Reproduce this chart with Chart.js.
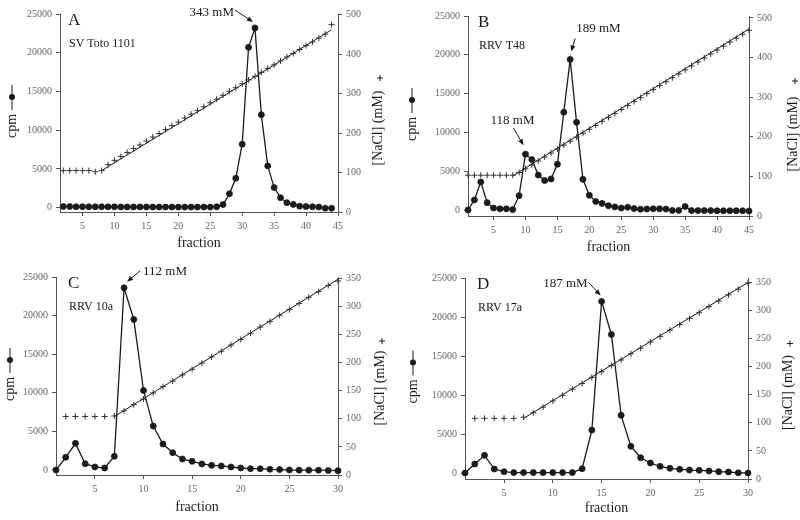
<!DOCTYPE html>
<html>
<head>
<meta charset="utf-8">
<title>Fraktionen NaCl-Gradient</title>
<script src="https://cdn.jsdelivr.net/npm/chart.js@4.4.1/dist/chart.umd.min.js"></script>
<style>
  body { margin: 0; background: #fff; }
  #wrap { position: relative; width: 800px; height: 520px; }
  #wrap canvas { position: absolute; left: 0; top: 0; }
</style>
</head>
<body>
<div id="wrap">
  <canvas id="panelA" width="800" height="520"></canvas>
  <canvas id="panelB" width="800" height="520"></canvas>
  <canvas id="panelC" width="800" height="520"></canvas>
  <canvas id="panelD" width="800" height="520"></canvas>
</div>
<script>
// Tick-Beschriftungen
const ticksX45 = [5, 10, 15, 20, 25, 30, 35, 40, 45];
const ticksX30 = [5, 10, 15, 20, 25, 30];
const ticksCpm = [0, 5000, 10000, 15000, 20000, 25000];
const ticksNacl500 = [0, 100, 200, 300, 400, 500];
const ticksNacl350 = [0, 50, 100, 150, 200, 250, 300, 350];

// A: SV Toto 1101
const fractionsA = [2, 3, 4, 5, 6, 7, 8, 9, 10, 11, 12, 13, 14, 15, 16, 17, 18, 19, 20, 21, 22, 23,
  24, 25, 26, 27, 28, 29, 30, 31, 32, 33, 34, 35, 36, 37, 38, 39, 40, 41, 42, 43, 44];
const cpmA = [150, 150, 130, 130, 120, 120, 120, 110, 110, 100, 100, 100, 100, 100, 90, 90, 90, 80,
  80, 80, 80, 80, 80, 80, 120, 400, 1800, 3800, 8200, 20700, 23200, 12000, 5400, 2600, 1300, 650,
  430, 200, 150, 120, 80, -60, -60];
const naclA = [105, 105, 105, 105, 105, 102, 105, 120, 131, 141, 151, 161, 170, 180, 190, 199, 209,
  219, 228, 238, 248, 257, 267, 277, 286, 296, 306, 315, 325, 335, 344, 354, 364, 373, 383, 393,
  402, 412, 422, 431, 441, 451, 475];
const fitA_x = [8, 44];
const fitA_y = [105, 462];

// B: RRV T48
const fractionsB = [1, 2, 3, 4, 5, 6, 7, 8, 9, 10, 11, 12, 13, 14, 15, 16, 17, 18, 19, 20, 21, 22,
  23, 24, 25, 26, 27, 28, 29, 30, 31, 32, 33, 34, 35, 36, 37, 38, 39, 40, 41, 42, 43, 44, 45];
const cpmB = [0, 1300, 3600, 950, 250, 150, 150, 50, 1850, 7200, 6500, 4500, 3800, 4000, 5900,
  12600, 19400, 11300, 3950, 1900, 1100, 850, 550, 400, 250, 350, 180, 100, 120, 150, 150, 120,
  -50, -50, 450, -80, -80, -80, -80, -100, -100, -100, -100, -100, -120];
const naclB = [103, 103, 103, 103, 103, 103, 103, 103, 110, 119, 129, 139, 149, 159, 169, 179, 189,
  199, 209, 219, 229, 239, 249, 259, 269, 279, 289, 299, 309, 319, 329, 339, 349, 359, 369, 379,
  389, 399, 409, 419, 429, 439, 449, 459, 469];
const fitB_x = [8, 45];
const fitB_y = [101, 472];

// C: RRV 10a
const fractionsC = [1, 2, 3, 4, 5, 6, 7, 8, 9, 10, 11, 12, 13, 14, 15, 16, 17, 18, 19, 20, 21, 22,
  23, 24, 25, 26, 27, 28, 29, 30];
const cpmC = [0, 1640, 3450, 820, 390, 260, 1770, 23600, 19500, 10300, 5690, 3360, 2240, 1420,
  1120, 780, 600, 520, 390, 260, 170, 170, 90, 50, 0, -20, -20, -20, -60, -90];
const naclFractionsC = [2, 3, 4, 5, 6, 7, 8, 9, 10, 11, 12, 13, 14, 15, 16, 17, 18, 19, 20, 21, 22,
  23, 24, 25, 26, 27, 28, 29, 30];
const naclC = [104, 104, 104, 104, 104, 105, 114, 125, 135, 146, 157, 167, 178, 188, 199, 210, 220,
  231, 241, 252, 263, 273, 284, 294, 305, 316, 326, 337, 345];
const fitC_x = [7, 30];
const fitC_y = [104, 348];

// D: RRV 17a
const fractionsD = [1, 2, 3, 4, 5, 6, 7, 8, 9, 10, 11, 12, 13, 14, 15, 16, 17, 18, 19, 20, 21, 22,
  23, 24, 25, 26, 27, 28, 29, 30];
const cpmD = [0, 1150, 2260, 510, 170, 50, 50, 50, 50, 50, 50, 50, 550, 5500, 22000, 17760, 7390,
  3420, 1960, 1280, 850, 600, 470, 380, 340, 260, 170, 130, 20, 0];
const naclFractionsD = [2, 3, 4, 5, 6, 7, 8, 9, 10, 11, 12, 13, 14, 15, 16, 17, 18, 19, 20, 21, 22,
  23, 24, 25, 26, 27, 28, 29, 30];
const naclD = [108, 108, 108, 108, 108, 110, 118, 128, 139, 149, 160, 170, 181, 191, 202, 212, 223,
  233, 244, 254, 265, 275, 286, 296, 307, 317, 328, 338, 349];
const fitD_x = [7, 30];
const fitD_y = [108, 350];

// Peak-Beschriftungen (Fraktion, cpm, Text)
const peaksA = [{ fraction: 32, cpm: 23200, text: '343 mM' }];
const peaksB = [{ fraction: 17, cpm: 19400, text: '189 mM' }, { fraction: 10, cpm: 7200, text: '118 mM' }];
const peaksC = [{ fraction: 8, cpm: 23600, text: '112 mM' }];
const peaksD = [{ fraction: 15, cpm: 22000, text: '187 mM' }];

const serif = '"Liberation Serif", "DejaVu Serif", serif';
const ink = '#1a1a1a';
const axisGrey = '#555';
const tickGrey = '#666';

Chart.defaults.font.family = serif;

const toPoints = (xs, ys) => xs.map((x, i) => ({ x: x, y: ys[i] }));

// Zeichnet Buchstabe, Stamm, Achsentitel und Pfeile
const panelDecor = {
  id: 'panelDecor',
  afterDraw(chart, args, o) {
    const { ctx, chartArea: a, scales } = chart;
    const mid = (a.top + a.bottom) / 2;
    ctx.save();
    ctx.fillStyle = ink;
    ctx.strokeStyle = ink;
    ctx.lineWidth = 1;

    ctx.textAlign = 'left';
    ctx.textBaseline = 'alphabetic';
    ctx.font = '17px ' + serif;
    ctx.fillText(o.letter, a.left + o.labelDx, a.top + 11);
    ctx.font = '12px ' + serif;
    ctx.fillText(o.strain, a.left + o.labelDx + 1, a.top + 33);

    // links: cpm mit Linie + Punkt
    const lx = a.left - o.leftDx;
    ctx.beginPath();
    ctx.moveTo(lx, mid - 28);
    ctx.lineTo(lx, mid - 3);
    ctx.stroke();
    ctx.beginPath();
    ctx.arc(lx, mid - 16, 3, 0, Math.PI * 2);
    ctx.fill();
    ctx.save();
    ctx.translate(lx, mid + 13);
    ctx.rotate(-Math.PI / 2);
    ctx.textAlign = 'center';
    ctx.textBaseline = 'middle';
    ctx.font = '14px ' + serif;
    ctx.fillText('cpm', 0, 0);
    ctx.restore();

    // rechts: [NaCl] (mM) mit Kreuz
    const rx = a.right + o.rightDx;
    ctx.save();
    ctx.translate(rx, mid + o.rightTextDy);
    ctx.rotate(-Math.PI / 2);
    ctx.textAlign = 'center';
    ctx.textBaseline = 'middle';
    ctx.font = '14px ' + serif;
    ctx.fillText('[NaCl] (mM)', 0, 0);
    ctx.restore();
    const px = rx + 2, py = mid - 35;
    ctx.beginPath();
    ctx.moveTo(px - 3, py); ctx.lineTo(px + 3, py);
    ctx.moveTo(px, py - 3); ctx.lineTo(px, py + 3);
    ctx.stroke();

    // Pfeile zu den Peaks
    ctx.font = '13px ' + serif;
    ctx.textBaseline = 'middle';
    o.peaks.forEach((pk, i) => {
      const st = o.arrows[i];
      const x0 = scales.x.getPixelForValue(pk.fraction);
      const y0 = scales.y.getPixelForValue(pk.cpm);
      const tx = x0 + st.tail[0], ty = y0 + st.tail[1];
      const hx = x0 + st.tip[0], hy = y0 + st.tip[1];
      const ang = Math.atan2(hy - ty, hx - tx);
      const c = Math.cos(ang), s = Math.sin(ang);
      ctx.beginPath();
      ctx.moveTo(tx, ty);
      ctx.lineTo(hx - 4 * c, hy - 4 * s);
      ctx.stroke();
      ctx.beginPath();
      ctx.moveTo(hx, hy);
      ctx.lineTo(hx - 6 * c - 2.5 * s, hy - 6 * s + 2.5 * c);
      ctx.lineTo(hx - 6 * c + 2.5 * s, hy - 6 * s - 2.5 * c);
      ctx.closePath();
      ctx.fill();
      ctx.textAlign = st.align;
      ctx.fillText(pk.text, x0 + st.text[0], y0 + st.text[1]);
    });
    ctx.restore();
  }
};

function axisStyle() {
  return {
    grid: { drawOnChartArea: false, drawTicks: true, tickLength: 4, color: axisGrey, lineWidth: 1 },
    border: { display: true, color: axisGrey, width: 1 },
    ticks: { color: tickGrey, font: { size: 10, family: serif }, autoSkip: false, maxRotation: 0, padding: 4,
      callback: v => String(v) }
  };
}

function drawPanel(p) {
  const b = p.box;
  const xBottom = b.titleY + 8.4;
  const x = axisStyle(), y = axisStyle(), y2 = axisStyle();

  new Chart(document.getElementById(p.id), {
    type: 'scatter',
    data: {
      datasets: [
        {
          label: 'cpm',
          data: toPoints(p.fractions, p.cpm),
          yAxisID: 'y',
          showLine: true,
          borderColor: ink,
          borderWidth: 1.3,
          pointRadius: 3,
          pointBackgroundColor: ink,
          pointBorderColor: ink,
          pointBorderWidth: 0.8,
          clip: false
        },
        {
          label: 'NaCl',
          data: toPoints(p.naclFractions, p.nacl),
          yAxisID: 'y2',
          showLine: false,
          pointStyle: 'cross',
          pointRadius: 3,
          pointBorderColor: '#333',
          pointBorderWidth: 1,
          clip: false
        },
        {
          label: 'Gradient',
          data: toPoints(p.fitX, p.fitY),
          yAxisID: 'y2',
          showLine: true,
          borderColor: ink,
          borderWidth: 1,
          pointRadius: 0,
          clip: false
        }
      ]
    },
    options: {
      responsive: false,
      animation: false,
      events: [],
      layout: {
        autoPadding: false,
        padding: { left: b.left - 40, right: 800 - b.right - 40, top: b.top, bottom: 520 - xBottom }
      },
      plugins: {
        legend: { display: false },
        tooltip: { enabled: false },
        panelDecor: p.decor
      },
      scales: {
        x: Object.assign(x, {
          type: 'linear', position: 'bottom', min: p.xMin, max: p.xMax,
          afterBuildTicks: s => { s.ticks = p.xTicks.map(v => ({ value: v })); },
          afterFit: s => { s.height = xBottom - b.bottom; },
          title: { display: true, text: 'fraction', color: '#222', font: { size: 14, family: serif }, padding: 0 }
        }),
        y: Object.assign(y, {
          type: 'linear', position: 'left', min: p.cpmMin, max: 25000,
          afterBuildTicks: s => { s.ticks = ticksCpm.map(v => ({ value: v })); },
          afterFit: s => { s.width = 40; }
        }),
        y2: Object.assign(y2, {
          type: 'linear', position: 'right', min: 0, max: p.naclMax,
          afterBuildTicks: s => { s.ticks = p.naclTicks.map(v => ({ value: v })); },
          afterFit: s => { s.width = 40; }
        })
      }
    },
    plugins: [panelDecor]
  });
}

drawPanel({
  id: 'panelA', fractions: fractionsA, cpm: cpmA, naclFractions: fractionsA, nacl: naclA,
  fitX: fitA_x, fitY: fitA_y, xMin: 1.48, xMax: 45, xTicks: ticksX45, cpmMin: -552,
  naclMax: 502, naclTicks: ticksNacl500,
  box: { left: 60, right: 338, top: 14, bottom: 212, titleY: 243 },
  decor: {
    letter: 'A', strain: 'SV Toto 1101', labelDx: 8, leftDx: 48, rightDx: 40, rightTextDy: 15,
    peaks: peaksA,
    arrows: [{ tail: [-20, -18], tip: [-2, -6], align: 'right', text: [-21, -15] }]
  }
});

drawPanel({
  id: 'panelB', fractions: fractionsB, cpm: cpmB, naclFractions: fractionsB, nacl: naclB,
  fitX: fitB_x, fitY: fitB_y, xMin: 1, xMax: 45, xTicks: ticksX45, cpmMin: -773,
  naclMax: 505, naclTicks: ticksNacl500,
  box: { left: 468, right: 749, top: 16, bottom: 216, titleY: 247 },
  decor: {
    letter: 'B', strain: 'RRV T48', labelDx: 10, leftDx: 56, rightDx: 44, rightTextDy: 18,
    peaks: peaksB,
    arrows: [
      { tail: [5, -21], tip: [1, -8], align: 'left', text: [6, -31] },
      { tail: [-12, -26], tip: [-2, -9], align: 'center', text: [-13, -34] }
    ]
  }
});

drawPanel({
  id: 'panelC', fractions: fractionsC, cpm: cpmC, naclFractions: naclFractionsC, nacl: naclC,
  fitX: fitC_x, fitY: fitC_y, xMin: 1, xMax: 30, xTicks: ticksX30, cpmMin: -649,
  naclMax: 352, naclTicks: ticksNacl350,
  box: { left: 56, right: 338, top: 277, bottom: 475, titleY: 507 },
  decor: {
    letter: 'C', strain: 'RRV 10a', labelDx: 12, leftDx: 46, rightDx: 42, rightTextDy: 12,
    peaks: peaksC,
    arrows: [{ tail: [16, -17], tip: [3, -6], align: 'left', text: [19, -16] }]
  }
});

drawPanel({
  id: 'panelD', fractions: fractionsD, cpm: cpmD, naclFractions: naclFractionsD, nacl: naclD,
  fitX: fitD_x, fitY: fitD_y, xMin: 1, xMax: 30, xTicks: ticksX30, cpmMin: -769,
  naclMax: 358, naclTicks: ticksNacl350,
  box: { left: 465, right: 748, top: 278, bottom: 479, titleY: 508 },
  decor: {
    letter: 'D', strain: 'RRV 17a', labelDx: 12, leftDx: 52, rightDx: 40, rightTextDy: 14,
    peaks: peaksD,
    arrows: [{ tail: [-13, -19], tip: [-1, -6], align: 'right', text: [-14, -18] }]
  }
});
</script>
</body>
</html>
